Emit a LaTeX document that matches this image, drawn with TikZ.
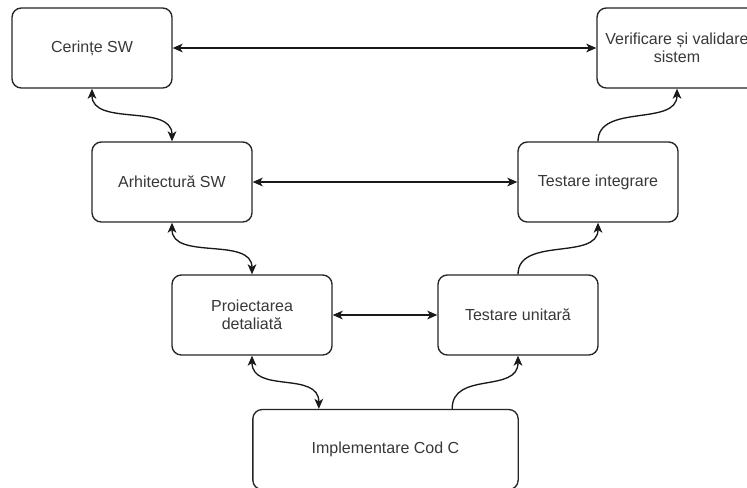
\documentclass[tikz,border=0pt]{standalone}
\usepackage{fontspec}
\setmainfont{Liberation Sans}
\usetikzlibrary{arrows.meta,calc}
\begin{document}
\begin{tikzpicture}[x=0.75pt,y=-0.75pt,
  box/.style={draw=black!85, line width=1pt, rounded corners=7pt, fill=white,
    minimum width=120pt, minimum height=60pt, inner sep=0pt, align=center,
    font=\fontsize{12}{13.5}\selectfont, text=black!78},
  tip/.tip={Stealth[length=7.5pt,width=6.5pt,inset=2pt]},
  both/.style={line width=1pt, draw=black!90, tip-tip},
  fwd/.style={line width=1pt, draw=black!90, -tip}]
\clip (0,0) rectangle (747,487);
\fill[white] (0,0) rectangle (747,487);

% V-model stages
\node[box] (cer) at (92,48)    {Cerințe SW};
\node[box] (ver) at (677,48)   {Verificare și validare\\sistem};
\node[box] (arh) at (172,182)  {Arhitectură SW};
\node[box] (tin) at (598,182)  {Testare integrare};
\node[box] (pro) at (252,315)  {Proiectarea\\detaliată};
\node[box] (tun) at (518,315)  {Testare unitară};
\node[box, minimum width=199pt] (imp) at (385.5,449.5) {Implementare Cod C};

% attachment points on the top edge of the implementation box
\coordinate (impL) at ($(imp.north west)!0.25!(imp.north east)$);
\coordinate (impR) at ($(imp.north west)!0.75!(imp.north east)$);

% horizontal links between matching levels
\draw[both] (cer) -- (ver);
\draw[both] (arh) -- (tin);
\draw[both] (pro) -- (tun);

% descending branch
\draw[both] (cer.south) .. controls ($(cer.south)+(0,38)$) and ($(arh.north)+(0,-38)$) .. (arh.north);
\draw[both] (arh.south) .. controls ($(arh.south)+(0,38)$) and ($(pro.north)+(0,-38)$) .. (pro.north);
\draw[both] (pro.south) .. controls ($(pro.south)+(0,38)$) and ($(impL)+(0,-38)$) .. (impL);

% ascending branch
\draw[fwd] (impR) .. controls ($(impR)+(0,-38)$) and ($(tun.south)+(0,38)$) .. (tun.south);
\draw[fwd] (tun.north) .. controls ($(tun.north)+(0,-38)$) and ($(tin.south)+(0,38)$) .. (tin.south);
\draw[fwd] (tin.north) .. controls ($(tin.north)+(0,-38)$) and ($(ver.south)+(0,38)$) .. (ver.south);
\end{tikzpicture}
\end{document}
